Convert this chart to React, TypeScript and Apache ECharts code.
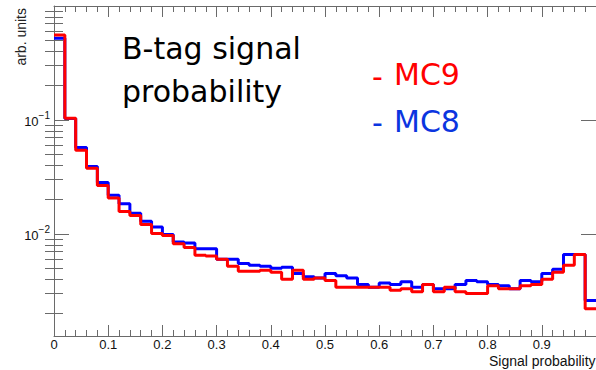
import React, { useEffect, useRef } from "react";
import * as echarts from "echarts";

const BIN_WIDTH = 0.02;
const Y_MIN = 0.00127;
const Y_MAX = 1;

// MC9 (red) bin contents, 50 bins of width 0.02 from 0 to 1
const mc9 = [
  0.557, 0.1035, 0.0542, 0.0377, 0.0266, 0.0206, 0.0157, 0.0145, 0.0121, 0.0101,
  0.0097, 0.0082, 0.0076, 0.0065, 0.0064, 0.006, 0.0052, 0.0047, 0.0047, 0.0048,
  0.0046, 0.004, 0.0048, 0.004, 0.0041, 0.0039, 0.0034, 0.0034, 0.0034, 0.0034,
  0.0034, 0.0032, 0.0033, 0.0031, 0.0036, 0.0031, 0.0034, 0.0031, 0.003, 0.003,
  0.0035, 0.0033, 0.0033, 0.0035, 0.0036, 0.004, 0.0046, 0.0053, 0.0066, 0.0022,
];

// MC8 (blue) bin contents
const mc8 = [
  0.521, 0.103, 0.0572, 0.039, 0.0282, 0.0218, 0.0184, 0.0152, 0.0129, 0.0115,
  0.0099, 0.0085, 0.0083, 0.0074, 0.0074, 0.006, 0.006, 0.0055, 0.0053, 0.0052,
  0.005, 0.0051, 0.0045, 0.0042, 0.0041, 0.0045, 0.0043, 0.0041, 0.0036, 0.0034,
  0.0037, 0.0036, 0.0038, 0.0034, 0.0036, 0.0033, 0.0033, 0.0036, 0.0039, 0.0038,
  0.0036, 0.0035, 0.0033, 0.0039, 0.0038, 0.0045, 0.0049, 0.0066, 0.0066, 0.0026,
];

const xTickLabels = ["0", "0.1", "0.2", "0.3", "0.4", "0.5", "0.6", "0.7", "0.8", "0.9"];
const yMajorTicks = [0.01, 0.1];
const yMinorTicks = [
  0.002, 0.003, 0.004, 0.005, 0.006, 0.007, 0.008, 0.009,
  0.02, 0.03, 0.04, 0.05, 0.06, 0.07, 0.08, 0.09,
  0.2, 0.3, 0.4, 0.5, 0.6, 0.7, 0.8, 0.9,
];

function stepPoints(vals: number[]): number[][] {
  const pts = vals.map((v, i) => [+(i * BIN_WIDTH).toFixed(2), v]);
  pts.push([+(vals.length * BIN_WIDTH).toFixed(2), vals[vals.length - 1]]);
  return pts;
}

const AXIS_COLOR = "#6a6a6a";
const LABEL_FONT = "Liberation Sans";
const TITLE_FONT = "DejaVu Sans";

export default function App() {
  const ref = useRef<HTMLDivElement>(null);

  useEffect(() => {
    if (!ref.current) return;
    const chart = echarts.init(ref.current, undefined, { renderer: "svg" });

    const lineStyle = { color: AXIS_COLOR, width: 1 };
    const xBase: any = {
      type: "value",
      min: 0,
      max: 1,
      interval: 0.1,
      splitLine: { show: false },
      minorSplitLine: { show: false },
      axisLine: { show: true, onZero: false, lineStyle },
      axisTick: { show: true, inside: true, length: 11, lineStyle },
      minorTick: { show: true, splitNumber: 5, length: 6, lineStyle },
    };
    const yBase: any = {
      type: "log",
      logBase: 10,
      min: Y_MIN,
      max: Y_MAX,
      splitLine: { show: false },
      minorTick: { show: false },
      minorSplitLine: { show: false },
    };
    const majorTick = { show: true, inside: true, length: 15, customValues: yMajorTicks, lineStyle };
    const minorTick = { show: true, inside: true, length: 9, customValues: yMinorTicks, lineStyle };

    const option: any = {
      animation: false,
      backgroundColor: "#ffffff",
      grid: { left: 54, right: -5, top: 6, bottom: 34, containLabel: false },
      xAxis: [
        {
          ...xBase,
          position: "bottom",
          axisLabel: {
            show: true,
            margin: 2,
            fontFamily: LABEL_FONT,
            fontSize: 13,
            color: "#111",
            showMaxLabel: false,
            formatter: (v: number) => {
              const i = Math.round(v * 10);
              return i < xTickLabels.length ? xTickLabels[i] : "";
            },
          },
        },
        { ...xBase, position: "top", axisLabel: { show: false } },
      ],
      yAxis: [
        {
          ...yBase,
          position: "left",
          axisLine: { show: true, onZero: false, lineStyle },
          axisTick: majorTick,
          axisLabel: {
            show: true,
            customValues: yMajorTicks,
            margin: 4,
            formatter: (v: number) => {
              const e = Math.round(Math.log10(v));
              return `{b|10}{s|\u2212${-e}}`;
            },
            rich: {
              b: { fontFamily: LABEL_FONT, fontSize: 13, color: "#111", padding: [4, 0, 0, 0] },
              s: { fontFamily: LABEL_FONT, fontSize: 10, color: "#111", padding: [0, 0, 8, 0] },
            },
          },
        },
        {
          ...yBase,
          position: "left",
          axisLine: { show: false },
          axisTick: minorTick,
          axisLabel: { show: false },
        },
        {
          ...yBase,
          position: "right",
          axisLine: { show: true, onZero: false, lineStyle },
          axisTick: majorTick,
          axisLabel: { show: false },
        },
        {
          ...yBase,
          position: "right",
          axisLine: { show: false },
          axisTick: minorTick,
          axisLabel: { show: false },
        },
      ],
      series: [
        {
          name: "MC8",
          type: "line",
          step: "end",
          data: stepPoints(mc8),
          showSymbol: false,
          symbol: "none",
          lineStyle: { color: "#0000ff", width: 3 },
          clip: true,
          z: 3,
        },
        {
          name: "MC9",
          type: "line",
          step: "end",
          data: stepPoints(mc9),
          showSymbol: false,
          symbol: "none",
          lineStyle: { color: "#ff0000", width: 3 },
          clip: true,
          z: 4,
        },
      ],
      graphic: [
        {
          type: "text",
          x: 21,
          y: 8,
          rotation: Math.PI / 2,
          style: { text: "arb. units", align: "right", verticalAlign: "middle", font: `14px "${LABEL_FONT}"`, fill: "#222" },
        },
        {
          type: "text",
          x: 489,
          y: 361,
          style: { text: "Signal probability", align: "left", verticalAlign: "middle", font: `14px "${LABEL_FONT}"`, fill: "#111" },
        },
        {
          type: "text",
          x: 122,
          y: 48,
          style: { text: "B-tag signal", align: "left", verticalAlign: "middle", font: `30px "${TITLE_FONT}"`, fill: "#000" },
        },
        {
          type: "text",
          x: 122,
          y: 91,
          style: { text: "probability", align: "left", verticalAlign: "middle", font: `30px "${TITLE_FONT}"`, fill: "#000" },
        },
        {
          type: "text",
          x: 372,
          y: 76,
          style: { text: "-", align: "left", verticalAlign: "middle", font: `30px "${TITLE_FONT}"`, fill: "#ff0000" },
        },
        {
          type: "text",
          x: 394,
          y: 74.5,
          style: { text: "MC9", align: "left", verticalAlign: "middle", font: `30px "${TITLE_FONT}"`, fill: "#ff0000" },
        },
        {
          type: "text",
          x: 372,
          y: 122.5,
          style: { text: "-", align: "left", verticalAlign: "middle", font: `30px "${TITLE_FONT}"`, fill: "#0b35e0" },
        },
        {
          type: "text",
          x: 394,
          y: 121,
          style: { text: "MC8", align: "left", verticalAlign: "middle", font: `30px "${TITLE_FONT}"`, fill: "#0b35e0" },
        },
      ],
    };

    chart.setOption(option);
    return () => chart.dispose();
  }, []);

  return (
    <div
      ref={ref}
      style={{ position: "fixed", left: 0, top: 0, width: 596, height: 370, background: "#fff" }}
    />
  );
}
